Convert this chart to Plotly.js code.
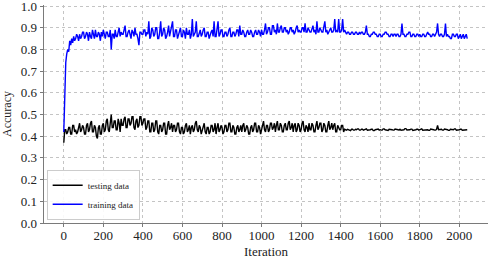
<!DOCTYPE html>
<html>
<head>
<meta charset="utf-8">
<script src="https://cdn.plot.ly/plotly-3.0.1.min.js"></script>
<style>
  html, body { margin: 0; padding: 0; background: #fff; }
  #chart { width: 491px; height: 259px; }
</style>
</head>
<body>
<div id="chart"></div>
<script>
const ITER_STEP = 5;

const trainAcc = [
  0.42, 0.62, 0.74, 0.78, 0.80, 0.79, 0.84, 0.82, 0.85, 0.83, 0.86, 0.84, 0.85, 0.87, 0.86, 0.84, 0.87, 0.85, 0.86, 0.88,
  0.88, 0.85, 0.86, 0.88, 0.87, 0.84, 0.88, 0.86, 0.85, 0.89, 0.87, 0.85, 0.89, 0.86, 0.86, 0.88, 0.87, 0.84, 0.88, 0.86,
  0.89, 0.86, 0.85, 0.88, 0.88, 0.86, 0.86, 0.89, 0.80, 0.87, 0.87, 0.85, 0.89, 0.86, 0.86, 0.88, 0.90, 0.86, 0.88, 0.87,
  0.87, 0.89, 0.91, 0.86, 0.86, 0.88, 0.89, 0.87, 0.85, 0.89, 0.88, 0.86, 0.90, 0.87, 0.87, 0.85, 0.82, 0.88, 0.88, 0.87,
  0.87, 0.89, 0.89, 0.86, 0.88, 0.87, 0.93, 0.85, 0.86, 0.90, 0.89, 0.86, 0.87, 0.90, 0.90, 0.85, 0.85, 0.88, 0.93, 0.86,
  0.87, 0.90, 0.89, 0.85, 0.86, 0.88, 0.91, 0.86, 0.88, 0.90, 0.93, 0.86, 0.86, 0.89, 0.89, 0.85, 0.87, 0.89, 0.90, 0.86,
  0.86, 0.89, 0.88, 0.85, 0.90, 0.87, 0.87, 0.89, 0.85, 0.87, 0.94, 0.86, 0.87, 0.88, 0.93, 0.86, 0.86, 0.88, 0.89, 0.86,
  0.87, 0.89, 0.90, 0.86, 0.86, 0.88, 0.88, 0.85, 0.87, 0.88, 0.89, 0.86, 0.93, 0.86, 0.86, 0.89, 0.93, 0.86, 0.87, 0.89,
  0.89, 0.86, 0.86, 0.88, 0.88, 0.86, 0.87, 0.89, 0.90, 0.86, 0.86, 0.88, 0.88, 0.86, 0.87, 0.89, 0.89, 0.86, 0.91, 0.87,
  0.87, 0.89, 0.88, 0.86, 0.86, 0.88, 0.89, 0.87, 0.87, 0.89, 0.88, 0.86, 0.86, 0.88, 0.89, 0.87, 0.87, 0.89, 0.88, 0.86,
  0.89, 0.87, 0.87, 0.89, 0.92, 0.87, 0.88, 0.90, 0.90, 0.87, 0.87, 0.91, 0.91, 0.88, 0.89, 0.87, 0.92, 0.88, 0.88, 0.90,
  0.91, 0.88, 0.88, 0.90, 0.90, 0.88, 0.89, 0.87, 0.88, 0.90, 0.90, 0.88, 0.89, 0.87, 0.88, 0.90, 0.91, 0.88, 0.89, 0.88,
  0.88, 0.90, 0.90, 0.88, 0.92, 0.88, 0.88, 0.90, 0.89, 0.88, 0.88, 0.90, 0.91, 0.88, 0.89, 0.87, 0.93, 0.88, 0.88, 0.90,
  0.89, 0.88, 0.88, 0.90, 0.93, 0.88, 0.89, 0.87, 0.88, 0.89, 0.90, 0.88, 0.88, 0.89, 0.94, 0.88, 0.89, 0.88, 0.94, 0.88,
  0.88, 0.89, 0.94, 0.88, 0.89, 0.88, 0.87, 0.88, 0.88, 0.87, 0.87, 0.88, 0.88, 0.87, 0.87, 0.88, 0.88, 0.87, 0.87, 0.88,
  0.87, 0.88, 0.88, 0.87, 0.87, 0.88, 0.91, 0.87, 0.87, 0.86, 0.86, 0.87, 0.87, 0.88, 0.88, 0.87, 0.87, 0.86, 0.86, 0.87,
  0.87, 0.86, 0.86, 0.87, 0.87, 0.88, 0.88, 0.87, 0.87, 0.86, 0.86, 0.87, 0.87, 0.86, 0.87, 0.87, 0.86, 0.87, 0.87, 0.86,
  0.86, 0.87, 0.92, 0.87, 0.87, 0.86, 0.86, 0.87, 0.87, 0.88, 0.88, 0.86, 0.86, 0.87, 0.87, 0.86, 0.86, 0.87, 0.87, 0.86,
  0.87, 0.86, 0.86, 0.87, 0.87, 0.86, 0.86, 0.87, 0.88, 0.87, 0.87, 0.86, 0.86, 0.87, 0.87, 0.86, 0.87, 0.88, 0.92, 0.87,
  0.86, 0.87, 0.87, 0.86, 0.86, 0.87, 0.92, 0.86, 0.87, 0.86, 0.86, 0.85, 0.85, 0.87, 0.87, 0.86, 0.86, 0.87, 0.87, 0.85,
  0.86, 0.87, 0.85, 0.86, 0.87, 0.85, 0.86, 0.87, 0.85
];

const testAcc = [
  0.37, 0.43, 0.43, 0.41, 0.42, 0.44, 0.44, 0.41, 0.41, 0.45, 0.45, 0.42, 0.43, 0.41, 0.42, 0.45, 0.46, 0.42, 0.43, 0.45,
  0.44, 0.41, 0.41, 0.45, 0.46, 0.42, 0.43, 0.46, 0.47, 0.42, 0.42, 0.45, 0.44, 0.40, 0.39, 0.44, 0.45, 0.41, 0.41, 0.45,
  0.46, 0.42, 0.43, 0.47, 0.48, 0.43, 0.42, 0.46, 0.50, 0.44, 0.44, 0.47, 0.47, 0.43, 0.43, 0.48, 0.46, 0.42, 0.48, 0.45,
  0.45, 0.48, 0.49, 0.44, 0.44, 0.48, 0.48, 0.45, 0.46, 0.49, 0.49, 0.44, 0.43, 0.47, 0.48, 0.44, 0.45, 0.49, 0.49, 0.45,
  0.46, 0.48, 0.48, 0.43, 0.44, 0.47, 0.47, 0.42, 0.42, 0.46, 0.46, 0.42, 0.43, 0.47, 0.47, 0.42, 0.41, 0.45, 0.45, 0.42,
  0.43, 0.46, 0.46, 0.41, 0.41, 0.45, 0.47, 0.43, 0.44, 0.46, 0.42, 0.45, 0.45, 0.42, 0.43, 0.46, 0.46, 0.42, 0.41, 0.44,
  0.44, 0.41, 0.42, 0.45, 0.46, 0.42, 0.43, 0.45, 0.41, 0.44, 0.45, 0.42, 0.43, 0.46, 0.47, 0.43, 0.42, 0.45, 0.44, 0.41,
  0.43, 0.45, 0.46, 0.42, 0.41, 0.44, 0.44, 0.41, 0.42, 0.45, 0.45, 0.42, 0.43, 0.46, 0.41, 0.44, 0.46, 0.42, 0.43, 0.45,
  0.44, 0.41, 0.42, 0.45, 0.45, 0.42, 0.43, 0.46, 0.46, 0.42, 0.42, 0.45, 0.44, 0.41, 0.41, 0.44, 0.45, 0.42, 0.43, 0.45,
  0.42, 0.45, 0.46, 0.42, 0.43, 0.45, 0.44, 0.41, 0.41, 0.44, 0.45, 0.42, 0.43, 0.46, 0.46, 0.42, 0.42, 0.45, 0.44, 0.41,
  0.43, 0.46, 0.47, 0.43, 0.42, 0.45, 0.45, 0.42, 0.43, 0.46, 0.46, 0.43, 0.44, 0.46, 0.42, 0.45, 0.47, 0.43, 0.43, 0.46,
  0.45, 0.42, 0.42, 0.45, 0.46, 0.43, 0.43, 0.46, 0.47, 0.43, 0.44, 0.46, 0.42, 0.45, 0.46, 0.42, 0.43, 0.46, 0.45, 0.42,
  0.43, 0.46, 0.47, 0.43, 0.42, 0.45, 0.44, 0.42, 0.46, 0.43, 0.43, 0.46, 0.45, 0.42, 0.42, 0.45, 0.47, 0.43, 0.44, 0.46,
  0.46, 0.42, 0.43, 0.46, 0.45, 0.42, 0.42, 0.45, 0.47, 0.43, 0.44, 0.46, 0.43, 0.45, 0.46, 0.42, 0.42, 0.45, 0.44, 0.43,
  0.43, 0.45, 0.45, 0.42, 0.432, 0.428, 0.428, 0.432, 0.43, 0.426, 0.426, 0.432, 0.432, 0.428, 0.428, 0.432, 0.43, 0.434, 0.434, 0.428,
  0.428, 0.432, 0.432, 0.428, 0.43, 0.434, 0.434, 0.428, 0.428, 0.43, 0.43, 0.432, 0.432, 0.426, 0.426, 0.43, 0.43, 0.433, 0.433, 0.428,
  0.43, 0.428, 0.428, 0.434, 0.434, 0.43, 0.43, 0.427, 0.427, 0.432, 0.432, 0.43, 0.43, 0.428, 0.428, 0.433, 0.433, 0.43, 0.43, 0.428,
  0.432, 0.428, 0.428, 0.43, 0.43, 0.435, 0.435, 0.429, 0.429, 0.43, 0.43, 0.433, 0.433, 0.427, 0.427, 0.43, 0.43, 0.432, 0.432, 0.428,
  0.43, 0.434, 0.434, 0.428, 0.428, 0.431, 0.431, 0.43, 0.43, 0.427, 0.427, 0.433, 0.433, 0.43, 0.43, 0.428, 0.428, 0.432, 0.45, 0.43,
  0.43, 0.432, 0.432, 0.428, 0.428, 0.433, 0.433, 0.43, 0.43, 0.427, 0.427, 0.432, 0.432, 0.43, 0.43, 0.434, 0.434, 0.428, 0.428, 0.43,
  0.43, 0.432, 0.432, 0.428, 0.428, 0.431, 0.431, 0.43, 0.43
];

const yTicks = [0.0, 0.1, 0.2, 0.3, 0.4, 0.5, 0.6, 0.7, 0.8, 0.9, 1.0];
const yTickText = ["0.0", "0.1", "0.2", "0.3", "0.4", "0.5", "0.6", "0.7", "0.8", "0.9", "1.0"];
const xTicks = [0, 200, 400, 600, 800, 1000, 1200, 1400, 1600, 1800, 2000];

const iterations = trainAcc.map((_, i) => i * ITER_STEP);

const SERIF = "Liberation Serif, Times New Roman, serif";
const AXIS = {
  showline: true, linecolor: "#7a7a7a", linewidth: 1.3,
  mirror: false, zeroline: false,
  showgrid: true, gridcolor: "#c4c4c4", griddash: "dot", gridwidth: 1,
  ticks: "outside", ticklen: 3, tickcolor: "#7a7a7a",
  ticklabeloverflow: "allow",
  tickfont: { family: SERIF, size: 13, color: "#222" },
};

const data = [
  { x: iterations, y: testAcc, mode: "lines", name: "testing data",
    line: { color: "#000000", width: 1.4 } },
  { x: iterations, y: trainAcc, mode: "lines", name: "training data",
    line: { color: "#0000ff", width: 1.4 } },
];

const layout = {
  width: 491, height: 259,
  paper_bgcolor: "#fff", plot_bgcolor: "#fff",
  margin: { l: 44, r: 3, t: 5, b: 36 },
  font: { family: SERIF, color: "#222" },
  xaxis: Object.assign({}, AXIS, {
    range: [-100, 2145], tickmode: "array", tickvals: xTicks,
    ticklabelstandoff: -3,
    title: { text: "Iteration", font: { family: SERIF, size: 13 } },
  }),
  yaxis: Object.assign({}, AXIS, {
    range: [0, 1.005], tickmode: "array", tickvals: yTicks, ticktext: yTickText,
    title: { text: "Accuracy", font: { family: SERIF, size: 12 }, standoff: 6 },
  }),
  showlegend: true,
  legend: {
    x: 0.006, y: 0.015, xanchor: "left", yanchor: "bottom",
    bgcolor: "rgba(255,255,255,0.9)", bordercolor: "#cccccc", borderwidth: 1,
    font: { family: SERIF, size: 9, color: "#222" },
    tracegroupgap: 0, itemwidth: 30,
  },
};

Plotly.newPlot("chart", data, layout, { displayModeBar: false, staticPlot: true });
</script>
</body>
</html>
